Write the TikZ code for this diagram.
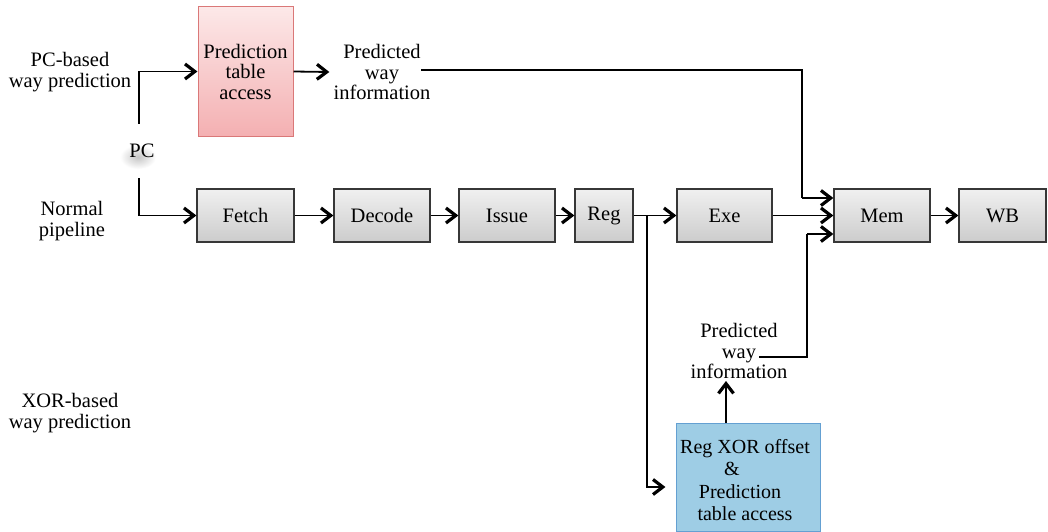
\documentclass[tikz,border=0pt]{standalone}
\usepackage{fontspec}
\setmainfont{Liberation Serif}
\usetikzlibrary{arrows.meta,calc}
\definecolor{stageTop}{RGB}{240,240,240}
\definecolor{stageBot}{RGB}{204,204,204}
\definecolor{stageEdge}{RGB}{55,55,55}
\definecolor{pinkTop}{RGB}{252,232,232}
\definecolor{pinkBot}{RGB}{244,176,178}
\definecolor{pinkEdge}{RGB}{218,120,120}
\definecolor{blueFill}{RGB}{158,205,229}
\definecolor{blueEdge}{RGB}{100,160,210}
% bold open chevron used on every connector
\pgfdeclarearrow{
  name=Chevron,
  setup code={
    \pgfarrowssettipend{0pt}
    \pgfarrowssetlineend{-4pt}
    \pgfarrowssetbackend{-14pt}
    \pgfarrowsupperhullpoint{-14pt}{9pt}
    \pgfarrowsupperhullpoint{0pt}{0pt}
  },
  drawing code={
    \pgfsetlinewidth{3.2pt}
    \pgfsetbuttcap
    \pgfsetmiterjoin
    \pgfpathmoveto{\pgfqpoint{-12.5pt}{7.5pt}}
    \pgfpathlineto{\pgfqpoint{-2.7pt}{0pt}}
    \pgfpathlineto{\pgfqpoint{-12.5pt}{-7.5pt}}
    \pgfusepathqstroke
  },
}
\tikzset{
  txt/.style={font=\fontsize{20.5}{20.5}\selectfont, align=center, inner sep=2pt},
  stage/.style={txt, draw=stageEdge, line width=1.1pt, top color=stageTop, bottom color=stageBot,
                minimum height=53pt, inner sep=0pt},
  arr/.style={-Chevron},
  pipe/.style={line width=1.8pt},
  slim/.style={line width=1.2pt},
}
\begin{document}
\begin{tikzpicture}[x=1pt,y=-1pt]
\useasboundingbox (0,0) rectangle (1048,532);
\fill[white] (0,0) rectangle (1048,532);

% pipeline stages
\node[stage, minimum width=97pt] (fetch)  at (245.5,215.5) {Fetch};
\node[stage, minimum width=96pt] (decode) at (382,215.5)   {Decode};
\node[stage, minimum width=96pt] (issue)  at (507,215.5)   {Issue};
\node[stage, minimum width=58pt] (reg)    at (604,215.5)   {Reg};
\node[stage, minimum width=95pt] (exe)    at (724.5,215.5) {Exe};
\node[stage, minimum width=96pt] (mem)    at (882,215.5)   {Mem};
\node[stage, minimum width=87pt] (wb)     at (1002.5,215.5){WB};

% prediction table (PC-based)
\node[txt, draw=pinkEdge, line width=1pt, top color=pinkTop, bottom color=pinkBot,
      minimum width=95pt, minimum height=129pt, inner sep=0pt]
      (pta) at (245.5,71.5) {Prediction\\table\\access};

% XOR-based predictor
\node[draw=blueEdge, line width=1pt, fill=blueFill, minimum width=144pt,
      minimum height=108pt, inner sep=0pt] (xor) at (748,477) {};
\node[txt, font=\fontsize{20}{22.5}\selectfont] (xortext) at (745,480)
      {Reg XOR offset\\\hspace*{-26pt}\&\\\hspace*{-10pt}Prediction\\table access};

% side labels
\node[txt] (pcbased)  at (70,72)  {PC-based\\way prediction};
\node[txt] (normal)   at (72,221) {Normal\\pipeline};
\node[txt] (xorbased) at (70,413) {XOR-based\\way prediction};

% PC with its soft shadow
\shade[inner color=gray!45, outer color=white] (138,157) ellipse (18pt and 12pt);
\node[txt, minimum height=54pt] (pc) at (142,151) {PC};

% predicted way information labels
\node[txt] (pwi1) at (382,72)  {Predicted\\way\\information};
\node[txt] (pwi2) at (739,351) {Predicted\\way\\information};

% junction points of the connectors
\coordinate (w1) at (421,70);
\coordinate (j1) at (802,198);
\coordinate (w2) at (759,357);
\coordinate (j2) at (807,234);
\coordinate (br) at (647,215.5);

% PC fan-out
\draw[slim,arr] ([xshift=-3pt]pc.north) |- (pta.west);
\draw[slim,arr] ([xshift=-3pt]pc.south) |- (fetch.west);

% normal pipeline
\draw[pipe,arr] (fetch) -- (decode);
\draw[pipe,arr] (decode) -- (issue);
\draw[pipe,arr] (issue) -- (reg);
\draw[pipe,arr] (reg) -- (exe);
\draw[pipe,arr] (exe) -- (mem);
\draw[pipe,arr] (mem) -- (wb);

% PC-based prediction path
\draw[pipe,arr] (pta.east) -- ([xshift=-2pt]pwi1.west);
\draw[slim] (w1) -| (j1);
\draw[slim,arr] (j1) -- (j1 -| mem.west);

% XOR-based prediction path
\draw[slim,arr,shorten >=10pt] (br) |- ([yshift=-10pt]xor.west);
\draw[slim,arr] ([xshift=-22pt]xor.north) -- ([xshift=-22pt]xor.north |- pwi2.south);
\draw[slim] (w2) -| (j2);
\draw[slim,arr] (j2) -- (j2 -| mem.west);
\end{tikzpicture}
\end{document}
